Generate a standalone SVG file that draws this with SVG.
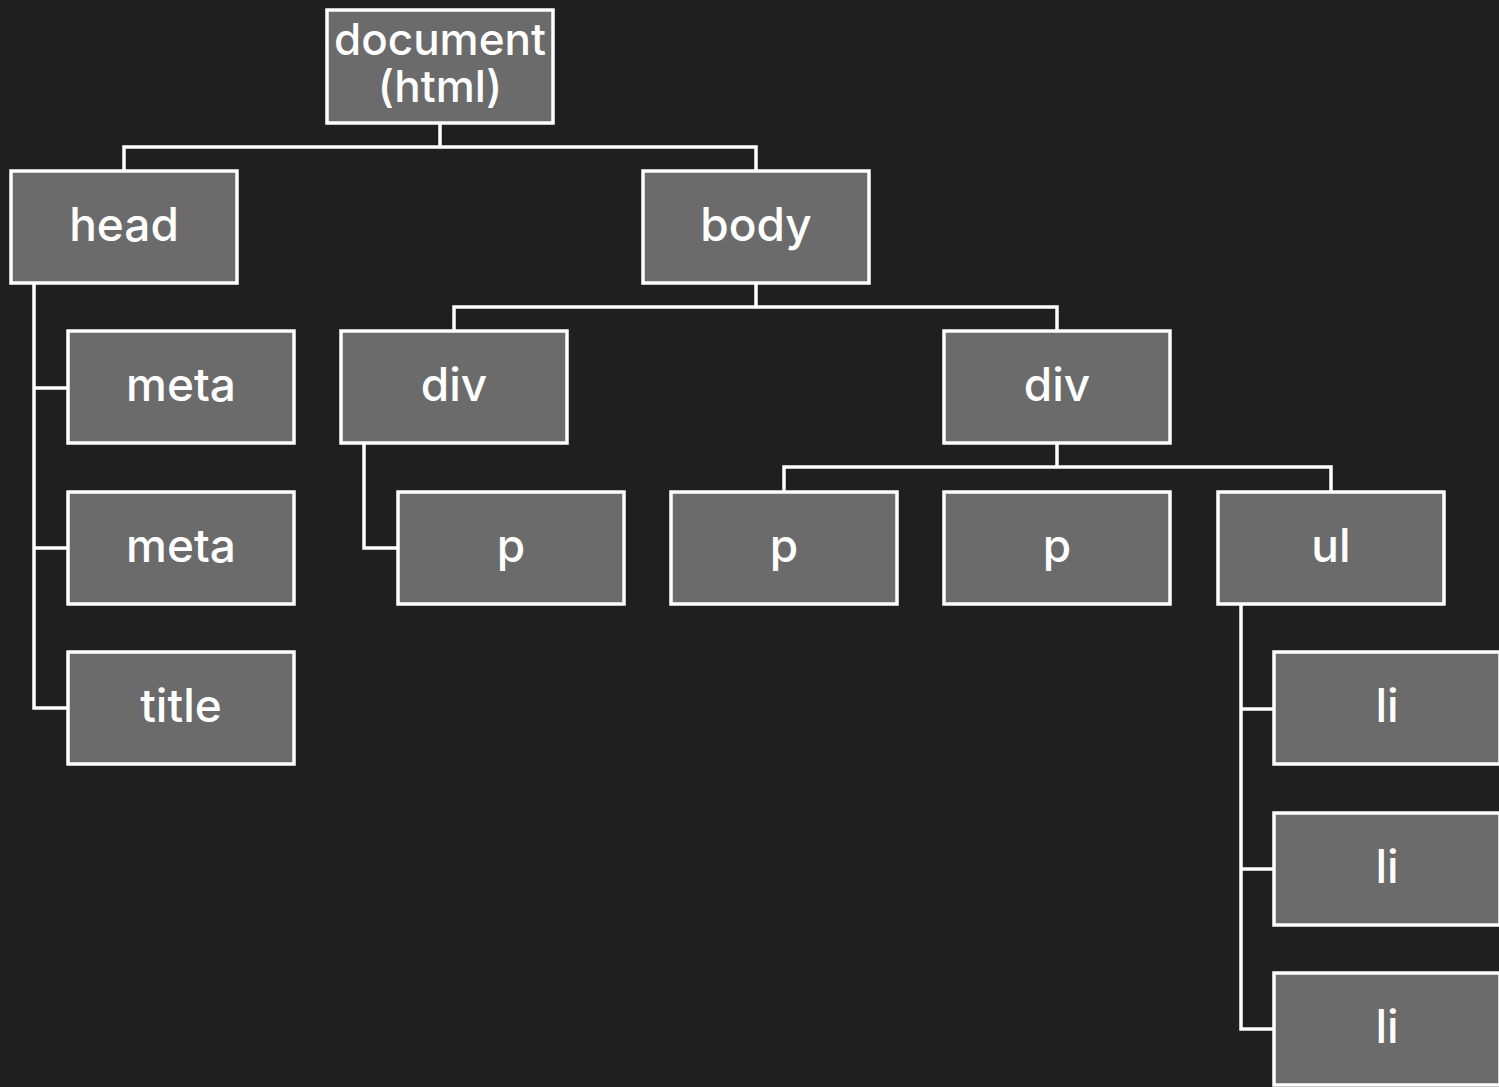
<svg xmlns="http://www.w3.org/2000/svg" width="1499" height="1087" viewBox="0 0 1499 1087">
<style>
.n rect{fill:#6b6b6b;stroke:#fff;stroke-width:3.5}
.n text{fill:#fff;font-family:Inter,"Liberation Sans",sans-serif;font-weight:500;font-size:46px;text-anchor:middle}
.n text.s{font-size:44px}
.c{fill:none;stroke:#fff;stroke-width:3.5}
</style>
<rect width="1499" height="1087" fill="#1f1f1f"/>
<g id="connectors" class="c">
<path d="M440 123V147M124 171V147H756V171"/>
<path d="M756 283V307M454 331V307H1057V331"/>
<path d="M1057 443V467M784 492V467H1331V492"/>
<path d="M34 283V708H68M34 388H68M34 548H68"/>
<path d="M364 443V548H398"/>
<path d="M1241 604V1029H1274M1241 709H1274M1241 869H1274"/>
</g>
<g id="document" class="n"><rect x="327" y="10" width="226" height="113"/><text class="s" x="440" y="55">document</text><text class="s" x="440" y="102">(html)</text></g>
<g id="head" class="n"><rect x="11" y="171" width="226" height="112"/><text x="124" y="241">head</text></g>
<g id="body" class="n"><rect x="643" y="171" width="226" height="112"/><text x="756" y="241">body</text></g>
<g id="meta1" class="n"><rect x="68" y="331" width="226" height="112"/><text x="181" y="401">meta</text></g>
<g id="meta2" class="n"><rect x="68" y="492" width="226" height="112"/><text x="181" y="562">meta</text></g>
<g id="title" class="n"><rect x="68" y="652" width="226" height="112"/><text x="181" y="722">title</text></g>
<g id="div1" class="n"><rect x="341" y="331" width="226" height="112"/><text x="454" y="401">div</text></g>
<g id="div2" class="n"><rect x="944" y="331" width="226" height="112"/><text x="1057" y="401">div</text></g>
<g id="p1" class="n"><rect x="398" y="492" width="226" height="112"/><text x="511" y="562">p</text></g>
<g id="p2" class="n"><rect x="671" y="492" width="226" height="112"/><text x="784" y="562">p</text></g>
<g id="p3" class="n"><rect x="944" y="492" width="226" height="112"/><text x="1057" y="562">p</text></g>
<g id="ul" class="n"><rect x="1218" y="492" width="226" height="112"/><text x="1331" y="562">ul</text></g>
<g id="li1" class="n"><rect x="1274" y="652" width="226" height="112"/><text x="1387" y="722">li</text></g>
<g id="li2" class="n"><rect x="1274" y="813" width="226" height="112"/><text x="1387" y="883">li</text></g>
<g id="li3" class="n"><rect x="1274" y="973" width="226" height="112"/><text x="1387" y="1043">li</text></g>
</svg>
